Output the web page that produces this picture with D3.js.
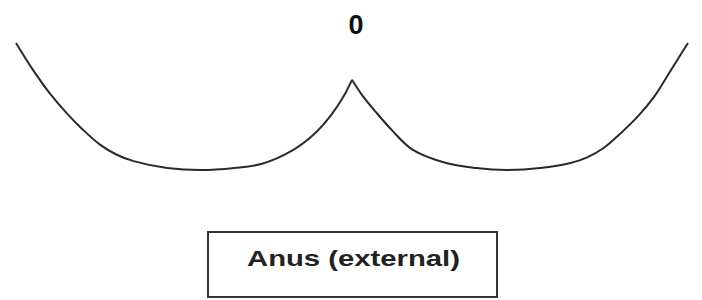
<!DOCTYPE html>
<html lang="en">
<head>
<meta charset="UTF-8">
<title>Anus (external)</title>
<script src="https://cdn.jsdelivr.net/npm/d3@7"></script>
<style>
  body { margin: 0; background: #fff; }
</style>
</head>
<body>
<svg width="702" height="300"></svg>
<script>
// position along the trace (arbitrary units), peak at 0
var leftPos  = [-10, -9.5, -9, -8.5, -8, -7.5, -7, -6.5, -5.5, -4.5, -3.5, -2.7, -1.8, -1.1, -0.6, -0.25, 0];
var leftVal  = [10, 7.9, 6.05, 4.5, 3.15, 2.0, 1.2, 0.7, 0.16, 0, 0.16, 0.47, 1.5, 2.9, 4.4, 5.8, 7.1];
var rightPos = [0, 0.3, 0.7, 1.2, 1.8, 2.8, 3.7, 4.6, 5.6, 6.5, 7, 7.5, 8, 8.5, 9, 9.5, 10];
var rightVal = [7.1, 5.9, 4.6, 3.1, 1.6, 0.55, 0.15, 0, 0.15, 0.55, 1.0, 1.75, 2.9, 4.2, 5.8, 7.9, 10];
var peakLabel = "0";
var boxLabel = "Anus (external)";

var svg = d3.select("svg");

var x = d3.scaleLinear().domain([-10, 10]).range([16, 688]);
var y = d3.scaleLinear().domain([0, 10]).range([170, 43]);

var line = d3.line()
    .x(function(d) { return x(d[0]); })
    .y(function(d) { return y(d[1]); })
    .curve(d3.curveCatmullRom.alpha(0.5));

var halves = [d3.zip(leftPos, leftVal), d3.zip(rightPos, rightVal)];

svg.selectAll("path.trace")
    .data(halves)
    .join("path")
    .attr("class", "trace")
    .attr("d", line)
    .attr("fill", "none")
    .attr("stroke", "#2a2a2a")
    .attr("stroke-width", 2)
    .attr("stroke-linejoin", "round");

// label over the peak
svg.append("text")
    .attr("x", 356)
    .attr("y", 34)
    .attr("text-anchor", "middle")
    .attr("font-family", "Liberation Sans, Arial, sans-serif")
    .attr("font-weight", "bold")
    .attr("font-size", 27)
    .attr("fill", "#111")
    .text(peakLabel);

// boxed caption
svg.append("rect")
    .attr("x", 208)
    .attr("y", 232)
    .attr("width", 289)
    .attr("height", 65)
    .attr("fill", "#fff")
    .attr("stroke", "#333")
    .attr("stroke-width", 2);

svg.append("text")
    .attr("x", 247)
    .attr("y", 266)
    .attr("font-family", "Liberation Sans, Arial, sans-serif")
    .attr("font-weight", "bold")
    .attr("font-size", 22)
    .attr("fill", "#222")
    .attr("textLength", 213)
    .attr("lengthAdjust", "spacingAndGlyphs")
    .text(boxLabel);
</script>
</body>
</html>
